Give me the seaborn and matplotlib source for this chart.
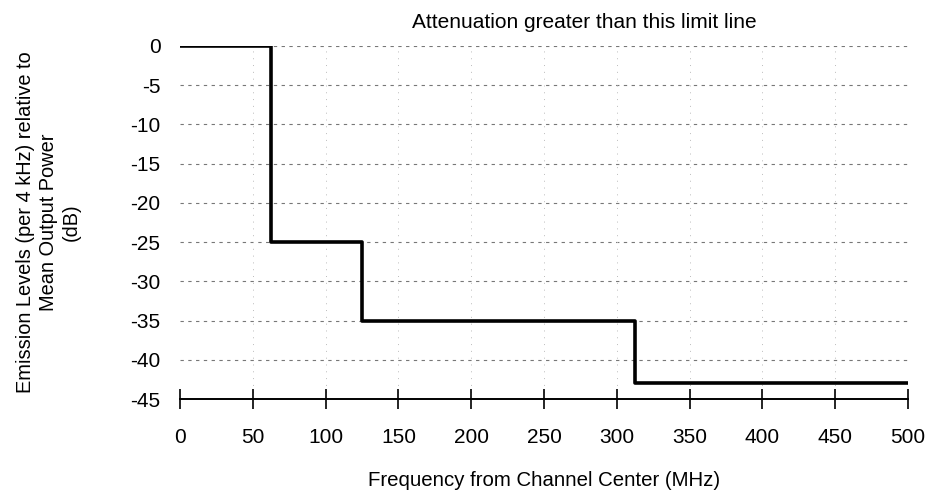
import matplotlib
matplotlib.use("Agg")
import matplotlib.pyplot as plt
import seaborn as sns
import pandas as pd

# Data: limit line step points (frequency MHz, level dB)
freq = [0, 62.5, 62.5, 125, 125, 312.5, 312.5, 500]
level = [0, 0, -25, -25, -35, -35, -43, -43]
x_ticks = [0, 50, 100, 150, 200, 250, 300, 350, 400, 450, 500]
y_ticks = [0, -5, -10, -15, -20, -25, -30, -35, -40, -45]

sns.set_theme(style="white")
plt.rcParams['font.family'] = ['Liberation Sans', 'DejaVu Sans']
plt.rcParams['text.color'] = 'black'
plt.rcParams['axes.labelcolor'] = 'black'
plt.rcParams['xtick.color'] = 'black'
plt.rcParams['ytick.color'] = 'black'

df = pd.DataFrame({"freq": freq, "level": level})

fig = plt.figure(figsize=(9.3, 4.98), dpi=100)
ax = fig.add_axes([180/930, 1-399/498, (908-180)/930, (399-46)/498])

sns.lineplot(data=df, x="freq", y="level", ax=ax, color="black", linewidth=2.6,
             sort=False, estimator=None)

for s in ["top", "right", "left"]:
    ax.spines[s].set_visible(False)
ax.spines["bottom"].set_color("black")
ax.spines["bottom"].set_linewidth(1.4)
ax.spines["bottom"].set_position(("data", -45))

ax.set_xlim(0, 500)
ax.set_ylim(-45, 0)
ax.set_xticks(x_ticks)
ax.set_yticks(y_ticks)
ax.set_xticklabels([str(v) for v in x_ticks])
ax.set_yticklabels([str(v) for v in y_ticks])

for y in y_ticks[:-1]:
    ax.axhline(y, color="#777777", linestyle=(0, (3, 4)), linewidth=0.8, zorder=0)
for x in x_ticks[1:]:
    ax.axvline(x, color="#bbbbbb", linestyle=(0, (1, 6)), linewidth=0.7, zorder=0)

ax.tick_params(axis="x", direction="inout", length=14, width=1.2, color="black",
               labelcolor="black", pad=14, bottom=True, labelsize=15)
ax.tick_params(axis="y", length=0, pad=14, labelsize=15, labelcolor="black")

ax.set_xlabel("Frequency from Channel Center (MHz)", fontsize=14.7, color="black")
ax.xaxis.set_label_coords(0.5, -(480 - 399) / 353, transform=ax.transAxes)
ax.set_ylabel("Emission Levels (per 4 kHz) relative to\nMean Output Power\n(dB)",
              fontsize=14.4, linespacing=1.25, color="black")
ax.yaxis.set_label_coords(-(180 - 48) / 728, 0.5, transform=ax.transAxes)
ax.yaxis.label.set_va("center")
ax.xaxis.label.set_va("center")

fig.text(584/930, 1-22/498, "Attenuation greater than this limit line",
         ha="center", va="center", fontsize=15, color="black")

fig.savefig("out.png", dpi=100)
